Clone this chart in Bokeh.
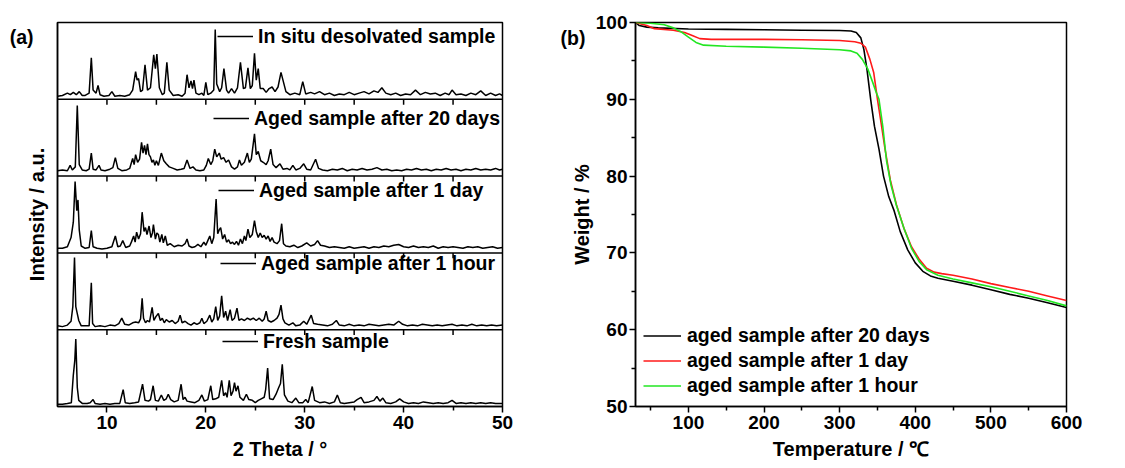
from bokeh.plotting import figure
from bokeh.models import Range1d, FixedTicker, Span, Legend, LegendItem, LinearAxis
from bokeh.layouts import row
from bokeh.embed import file_html
from bokeh.resources import INLINE

FONT = "Liberation Sans"

# ---------------- (a) PXRD data: (2theta, intensity within its band, 0..100) ----------------
PXRD_LABELS = ["In situ desolvated sample", "Aged sample after 20 days",
               "Aged sample after 1 day", "Aged sample after 1 hour", "Fresh sample"]

INSITU = [(5.0,4),(5.5,5),(6.0,8),(6.3,6),(6.6,9),(6.9,6),(7.2,10),(7.5,5),(7.8,5),(8.2,8),(8.42,54),(8.6,12),
          (8.9,8),(9.1,18),(9.3,6),(9.7,4),(10.2,5),(10.5,10),(10.8,4),(11.3,5),(11.8,4),(12.3,6),(12.6,12),(12.9,36),
          (13.05,25),(13.2,27),(13.4,10),(13.6,12),(13.85,45),(14.1,12),(14.4,15),(14.73,58),(14.9,40),(15.05,59),
          (15.3,15),(15.6,6),(15.8,8),(16.06,48),(16.3,12),(16.7,5),(17.2,6),(17.6,4),(17.9,8),(18.1,32),(18.3,15),
          (18.5,24),(18.65,14),(18.8,25),(19.0,8),(19.3,6),(19.6,8),(19.8,5),(20.0,22),(20.2,6),(20.5,8),(20.8,12),
          (20.95,91),(21.1,20),(21.4,10),(21.6,15),(21.83,40),(22.1,12),(22.3,8),(22.6,14),(22.9,8),(23.2,15),
          (23.5,48),(23.8,14),(24.0,15),(24.26,41),(24.5,14),(24.7,18),(24.92,60),(25.1,25),(25.3,40),(25.5,14),
          (25.8,14),(26.1,9),(26.4,14),(26.7,16),(27.0,10),(27.3,16),(27.6,35),(27.8,25),(28.1,10),(28.5,6),(29.0,8),
          (29.5,6),(29.8,23),(30.1,7),(30.6,9),(31.0,7),(31.5,10),(32.0,6),(32.5,8),(33.0,5),(33.5,7),(34.0,6),
          (34.5,9),(35.0,6),(35.5,8),(36.0,10),(36.5,7),(37.0,11),(37.4,9),(37.8,15),(38.2,8),(38.7,6),(39.2,8),
          (39.7,5),(40.2,7),(40.7,6),(41.2,12),(41.7,6),(42.2,9),(42.7,7),(43.2,8),(43.7,5),(44.2,8),(44.6,6),
          (44.9,12),(45.3,6),(45.8,7),(46.3,5),(46.8,8),(47.3,6),(47.8,11),(48.3,5),(48.8,8),(49.3,5),(49.7,7),(50.0,5)]

AGED_20D = [(5.0,7),(5.5,8),(6.0,7),(6.28,14),(6.5,8),(6.8,12),(7.0,92),(7.2,15),(7.5,8),(7.9,7),(8.2,9),(8.42,30),
            (8.6,9),(8.9,8),(9.2,14),(9.4,8),(9.8,7),(10.3,9),(10.6,11),(10.85,24),(11.1,10),(11.5,7),(12.0,8),
            (12.3,10),(12.6,23),(12.75,15),(12.9,28),(13.1,18),(13.3,22),(13.5,44),(13.65,30),(13.8,40),(13.95,28),
            (14.1,42),(14.25,28),(14.4,25),(14.55,18),(14.7,21),(14.85,14),(15.0,20),(15.2,14),(15.5,30),(15.75,20),
            (16.0,16),(16.3,12),(16.7,10),(17.1,8),(17.5,9),(17.8,10),(18.1,21),(18.4,10),(18.7,12),(19.0,8),(19.4,7),
            (19.8,8),(20.05,14),(20.25,23),(20.5,15),(20.7,20),(20.9,35),(21.1,25),(21.36,30),(21.55,22),(21.8,24),
            (22.05,18),(22.3,21),(22.6,12),(22.9,9),(23.2,12),(23.4,21),(23.6,14),(23.9,18),(24.2,30),(24.4,18),
            (24.6,22),(24.92,55),(25.1,28),(25.3,32),(25.55,20),(25.8,18),(26.1,15),(26.3,20),(26.56,35),(26.8,15),
            (27.1,11),(27.5,16),(27.8,9),(28.2,10),(28.5,8),(28.8,14),(29.1,8),(29.5,10),(29.9,16),(30.2,9),(30.6,8),
            (31.1,22),(31.4,10),(31.8,8),(32.3,7),(32.8,9),(33.3,8),(33.8,10),(34.3,7),(34.8,9),(35.3,8),(35.8,10),
            (36.3,8),(36.8,9),(37.3,11),(37.8,8),(38.3,9),(38.8,7),(39.3,8),(39.8,7),(40.3,9),(40.8,8),(41.3,10),
            (41.8,8),(42.3,9),(42.8,7),(43.3,9),(43.8,8),(44.3,10),(44.8,8),(45.3,9),(45.8,7),(46.3,9),(46.8,8),
            (47.3,10),(47.8,8),(48.3,9),(48.8,8),(49.3,10),(49.7,8),(50.0,9)]

AGED_1D = [(5.0,6),(5.5,6),(6.0,8),(6.37,20),(6.6,40),(6.78,93),(6.95,55),(7.07,69),(7.2,30),(7.4,9),(7.8,6),(8.2,7),
           (8.42,29),(8.6,8),(9.0,6),(9.5,5),(10.0,6),(10.5,8),(10.85,22),(11.1,8),(11.35,9),(11.6,16),(11.9,7),
           (12.3,9),(12.5,15),(12.7,22),(12.85,14),(13.0,27),(13.2,18),(13.4,25),(13.56,53),(13.75,28),(13.9,33),
           (14.05,24),(14.26,35),(14.45,20),(14.6,26),(14.7,37),(14.9,18),(15.05,26),(15.2,24),(15.35,14),(15.55,24),
           (15.7,13),(15.9,22),(16.1,10),(16.4,12),(16.8,8),(17.2,10),(17.6,9),(17.9,12),(18.1,18),(18.3,9),(18.6,7),
           (18.9,8),(19.2,11),(19.5,8),(19.8,14),(20.0,10),(20.2,16),(20.4,22),(20.6,12),(20.8,20),(21.04,70),
           (21.2,25),(21.35,30),(21.5,33),(21.7,18),(21.9,24),(22.1,14),(22.3,17),(22.5,12),(22.7,14),(22.9,11),
           (23.1,15),(23.3,10),(23.5,18),(23.7,12),(23.9,22),(24.05,16),(24.26,31),(24.45,20),(24.7,24),(24.92,42),
           (25.1,28),(25.3,20),(25.5,26),(25.7,20),(25.9,23),(26.1,18),(26.3,22),(26.5,15),(26.7,20),(26.9,14),
           (27.2,12),(27.45,16),(27.67,38),(27.85,12),(28.1,9),(28.5,8),(28.9,10),(29.3,7),(29.7,9),(30.2,13),
           (30.6,9),(31.0,11),(31.3,16),(31.6,10),(32.0,9),(32.5,7),(33.0,8),(33.5,7),(34.0,6),(34.5,8),(35.0,6),
           (35.5,7),(36.0,8),(36.5,6),(37.0,8),(37.5,7),(38.0,9),(38.5,8),(39.0,10),(39.5,11),(40.0,8),(40.5,7),
           (41.0,9),(41.5,7),(42.0,8),(42.5,7),(43.0,9),(43.5,6),(44.0,8),(44.5,7),(45.0,8),(45.5,7),(46.0,6),
           (46.5,8),(47.0,7),(47.5,8),(48.0,6),(48.5,7),(49.0,8),(49.5,6),(50.0,7)]

AGED_1H = [(5.0,5),(5.5,4),(6.0,6),(6.37,11),(6.55,30),(6.72,94),(6.85,30),(7.0,21),(7.15,12),(7.4,5),(7.8,5),(8.2,5),
           (8.42,61),(8.55,8),(8.8,4),(9.3,5),(9.8,4),(10.3,6),(10.8,5),(11.2,8),(11.5,15),(11.8,7),(12.2,6),(12.6,9),
           (12.9,10),(13.2,9),(13.4,14),(13.56,41),(13.7,15),(13.9,9),(14.1,12),(14.3,10),(14.57,29),(14.75,12),
           (14.95,17),(15.2,21),(15.4,12),(15.6,15),(15.8,9),(16.0,13),(16.3,10),(16.6,12),(16.9,8),(17.2,11),
           (17.4,19),(17.6,9),(17.9,11),(18.2,8),(18.5,6),(18.8,9),(19.1,7),(19.4,9),(19.6,15),(19.8,8),(20.1,11),
           (20.4,19),(20.6,10),(20.8,14),(21.0,30),(21.2,12),(21.4,18),(21.6,44),(21.8,16),(22.0,24),(22.2,12),
           (22.46,26),(22.65,12),(22.9,15),(23.15,28),(23.35,12),(23.6,14),(23.9,12),(24.2,15),(24.5,13),(24.8,15),
           (25.1,12),(25.4,15),(25.7,11),(25.9,14),(26.1,24),(26.3,12),(26.6,10),(26.9,12),(27.2,15),(27.4,20),
           (27.6,32),(27.8,14),(28.0,9),(28.4,6),(28.8,9),(29.1,5),(29.5,6),(29.9,11),(30.2,7),(30.66,19),(30.9,8),
           (31.3,7),(31.8,6),(32.3,5),(32.8,7),(33.2,12),(33.5,6),(34.0,5),(34.5,7),(35.0,5),(35.5,6),(36.0,5),
           (36.5,7),(37.0,6),(37.5,5),(38.0,6),(38.5,7),(39.0,6),(39.5,11),(39.9,7),(40.4,5),(40.9,6),(41.4,5),
           (41.9,7),(42.4,6),(42.9,5),(43.4,6),(43.9,5),(44.4,6),(44.9,7),(45.4,5),(45.9,6),(46.4,5),(46.9,7),
           (47.4,5),(47.9,6),(48.4,5),(48.9,6),(49.4,5),(50.0,6)]

FRESH = [(5.0,3),(5.5,3),(6.0,4),(6.4,5),(6.6,41),(6.75,60),(6.85,88),(7.0,25),(7.15,8),(7.5,4),(8.0,4),(8.3,5),
         (8.6,9),(8.8,4),(9.3,3),(9.8,4),(10.3,3),(10.8,4),(11.3,4),(11.64,22),(11.85,5),(12.3,4),(12.8,5),(13.2,6),
         (13.6,29),(13.85,8),(14.2,7),(14.4,9),(14.67,27),(14.9,8),(15.2,7),(15.5,15),(15.75,8),(16.0,10),(16.2,16),
         (16.45,9),(16.8,6),(17.2,8),(17.5,29),(17.7,9),(17.9,12),(18.1,7),(18.5,6),(18.9,5),(19.3,8),(19.6,15),
         (19.85,7),(20.2,9),(20.5,27),(20.7,9),(21.0,10),(21.3,12),(21.6,34),(21.8,14),(22.0,18),(22.15,12),
         (22.37,34),(22.55,14),(22.75,20),(22.9,31),(23.05,20),(23.25,27),(23.45,12),(23.8,8),(24.1,16),(24.35,9),
         (24.7,8),(25.0,5),(25.3,8),(25.6,10),(25.9,12),(26.05,22),(26.25,50),(26.45,10),(26.8,9),(27.1,16),
         (27.35,24),(27.55,30),(27.73,55),(27.95,15),(28.3,7),(28.7,5),(29.1,11),(29.4,5),(29.8,5),(30.1,9),
         (30.35,5),(30.76,26),(31.0,8),(31.5,5),(32.0,6),(32.5,4),(33.0,6),(33.3,15),(33.6,5),(34.0,4),(34.5,5),
         (35.0,6),(35.3,9),(35.7,12),(36.0,5),(36.5,6),(37.0,8),(37.3,13),(37.6,7),(37.9,11),(38.2,5),(38.7,4),
         (39.2,6),(39.6,10),(40.0,6),(40.5,4),(41.0,5),(41.5,4),(42.0,6),(42.5,5),(43.0,4),(43.5,5),(44.0,4),
         (44.5,5),(44.9,8),(45.3,4),(45.8,5),(46.3,4),(46.8,5),(47.3,4),(47.8,5),(48.3,4),(48.8,5),(49.3,4),(50.0,4)]

PXRD_SERIES = [INSITU, AGED_20D, AGED_1D, AGED_1H, FRESH]
TT_TICKS = [10, 20, 30, 40, 50]
TT_MINOR = [15, 25, 35, 45]

# ---------------- (b) TGA data ----------------
TGA_LABELS = ["aged sample after 20 days", "aged sample after 1 day", "aged sample after 1 hour"]
TGA_COLORS = ["#000000", "#ff1a1a", "#22e622"]

T_20D = [30, 35, 45, 60, 100, 150, 200, 250, 300, 315, 322, 328, 332, 336, 341, 346, 352, 358, 365, 372, 380,
         390, 400, 410, 420, 430, 450, 475, 500, 525, 550, 575, 600]
W_20D = [100, 99.6, 99.4, 99.3, 99.15, 99.1, 99.05, 99.0, 98.95, 98.9, 98.7, 98.0, 96.5, 94.0, 90.0, 86.5, 83.5,
         80.0, 77.3, 75.5, 72.8, 70.4, 68.7, 67.6, 67.0, 66.7, 66.3, 65.8, 65.2, 64.6, 64.1, 63.5, 62.9]

T_1D = [30, 45, 55, 80, 95, 105, 115, 130, 200, 250, 300, 320, 328, 334, 340, 345, 350, 355, 360, 367, 375, 385,
        395, 405, 415, 425, 435, 450, 475, 500, 525, 550, 575, 600]
W_1D = [100, 99.6, 99.2, 99.0, 98.7, 98.3, 97.9, 97.8, 97.8, 97.75, 97.65, 97.5, 97.3, 96.8, 95.2, 93.5, 90.0,
        86.8, 83.5, 79.5, 76.3, 73.2, 70.8, 69.2, 68.0, 67.5, 67.3, 67.1, 66.6, 66.0, 65.5, 65.0, 64.4, 63.8]

T_1H = [30, 50, 68, 80, 90, 100, 110, 120, 150, 200, 250, 300, 315, 323, 330, 337, 343, 348, 352, 357, 362, 368,
        375, 385, 395, 405, 415, 430, 450, 475, 500, 525, 550, 575, 600]
W_1H = [100, 99.9, 99.7, 99.3, 98.8, 98.1, 97.4, 97.05, 96.9, 96.8, 96.65, 96.45, 96.3, 96.0, 95.2, 94.0, 92.4,
        91.0, 90.0, 86.5, 82.0, 78.8, 76.2, 73.2, 70.6, 68.9, 67.8, 67.1, 66.6, 66.1, 65.6, 65.0, 64.4, 63.8, 63.1]

TGA_SERIES = [(T_20D, W_20D), (T_1D, W_1D), (T_1H, W_1H)]
T_TICKS = [100, 200, 300, 400, 500, 600]
T_MINOR = [50, 150, 250, 350, 450, 550]
W_TICKS = [50, 60, 70, 80, 90, 100]
W_MINOR = [55, 65, 75, 85, 95]

PANEL_TAGS = ["(a)", "(b)"]


def style_axis(ax):
    ax.axis_label_text_font = FONT
    ax.axis_label_text_font_style = "bold"
    ax.axis_label_text_font_size = "20px"
    ax.axis_label_text_color = "black"
    ax.major_label_text_font = FONT
    ax.major_label_text_font_style = "bold"
    ax.major_label_text_font_size = "19px"
    ax.major_label_text_color = "black"
    ax.axis_line_width = 1.5
    ax.axis_line_color = "black"
    ax.major_tick_line_width = 1.5
    ax.minor_tick_line_width = 1.5
    ax.major_tick_line_color = "black"
    ax.minor_tick_line_color = "black"
    ax.major_tick_in = 0
    ax.major_tick_out = 6
    ax.minor_tick_in = 0
    ax.minor_tick_out = 4


def tag_axis(tag, at, standoff):
    # panel tag "(a)"/"(b)" drawn as the only tick label of an outer, otherwise invisible axis
    return LinearAxis(ticker=FixedTicker(ticks=[at]), major_label_overrides={at: tag},
                      axis_line_color=None, major_tick_line_color=None, minor_tick_line_color=None,
                      major_tick_out=0, major_tick_in=0, major_label_standoff=standoff,
                      major_label_text_font=FONT, major_label_text_font_style="bold",
                      major_label_text_font_size="19.5px", major_label_text_color="black")


# ================= panel (a) =================
NB = len(PXRD_SERIES)
pa = figure(width=557, height=468, x_range=Range1d(5, 50), y_range=Range1d(0, 100 * NB),
            output_backend="svg", toolbar_location=None,
            min_border_left=57, min_border_right=55, min_border_top=22, min_border_bottom=62)
pa.grid.visible = False
pa.outline_line_color = "black"
pa.outline_line_width = 1.5
pa.background_fill_color = "white"
pa.border_fill_color = "white"

# each pattern gets its own band via its own y range (top band first)
for i, pts in enumerate(PXRD_SERIES):
    k = NB - 1 - i
    pa.extra_y_ranges[f"band{i}"] = Range1d(-100 * k, 100 * (NB - k))

leg_pos = [(160, 358), (156, 276), (161, 204), (163, 131), (165, 53)]
for i, (pts, lab) in enumerate(zip(PXRD_SERIES, PXRD_LABELS)):
    xs = [p[0] for p in pts]
    ys = [p[1] for p in pts]
    r = pa.line(xs, ys, line_color="black", line_width=1.5, y_range_name=f"band{i}")
    leg = Legend(items=[LegendItem(label=lab, renderers=[r])], location=leg_pos[i],
                 border_line_color=None, background_fill_alpha=0, padding=0, margin=0, spacing=0,
                 glyph_width=36, glyph_height=24, label_height=24, label_standoff=5,
                 label_text_font=FONT, label_text_font_style="bold", label_text_font_size="19.5px",
                 label_text_color="black")
    pa.add_layout(leg)

# band dividers with outward ticks hanging into the band below
for k in range(1, NB):
    pa.add_layout(Span(location=100 * k, dimension="width", line_color="black", line_width=1.5))
    tks = TT_TICKS[:-1] + TT_MINOR
    pa.segment(x0=tks, y0=[100 * k] * len(tks), x1=tks, y1=[100 * k - 7] * len(tks),
               line_color="black", line_width=1.5)

xa = pa.xaxis[0]
style_axis(xa)
xa.ticker = FixedTicker(ticks=TT_TICKS, minor_ticks=TT_MINOR)
xa.axis_label = "2 Theta / \u00b0"
xa.major_label_standoff = 3
xa.axis_label_standoff = 6

ya = pa.yaxis[0]
style_axis(ya)
ya.ticker = FixedTicker(ticks=[])
ya.major_tick_line_color = None
ya.minor_tick_line_color = None
ya.axis_label = "Intensity / a.u."
ya.axis_label_standoff = 10

pa.add_layout(tag_axis(PANEL_TAGS[0], 481, -11), "left")

# ================= panel (b) =================
pb = figure(width=568, height=468, x_range=Range1d(30, 600), y_range=Range1d(50, 100),
            output_backend="svg", toolbar_location=None,
            min_border_left=74, min_border_right=59, min_border_top=22, min_border_bottom=61)
pb.grid.visible = False
pb.outline_line_color = "black"
pb.outline_line_width = 1.5
pb.background_fill_color = "white"
pb.border_fill_color = "white"

items = []
for (tx, wy), lab, col in zip(TGA_SERIES, TGA_LABELS, TGA_COLORS):
    r = pb.line(tx, wy, line_color=col, line_width=1.6)
    items.append(LegendItem(label=lab, renderers=[r]))
legb = Legend(items=items, location=(8, 8), border_line_color=None, background_fill_alpha=0,
              padding=0, margin=0, spacing=0, glyph_width=38, glyph_height=25, label_height=25,
              label_standoff=6, label_text_font=FONT, label_text_font_style="bold",
              label_text_font_size="19.5px", label_text_color="black")
pb.add_layout(legb)

xb = pb.xaxis[0]
style_axis(xb)
xb.ticker = FixedTicker(ticks=T_TICKS, minor_ticks=T_MINOR)
xb.axis_label = "Temperature / \u2103"
xb.major_label_standoff = 3
xb.axis_label_standoff = 6

yb = pb.yaxis[0]
style_axis(yb)
yb.ticker = FixedTicker(ticks=W_TICKS, minor_ticks=W_MINOR)
yb.axis_label = "Weight / %"
yb.major_label_standoff = 2
yb.axis_label_standoff = 0

pb.add_layout(tag_axis(PANEL_TAGS[1], 98, -18), "left")

layout = row(pa, pb)
open("out.html", "w").write(file_html(layout, INLINE))
